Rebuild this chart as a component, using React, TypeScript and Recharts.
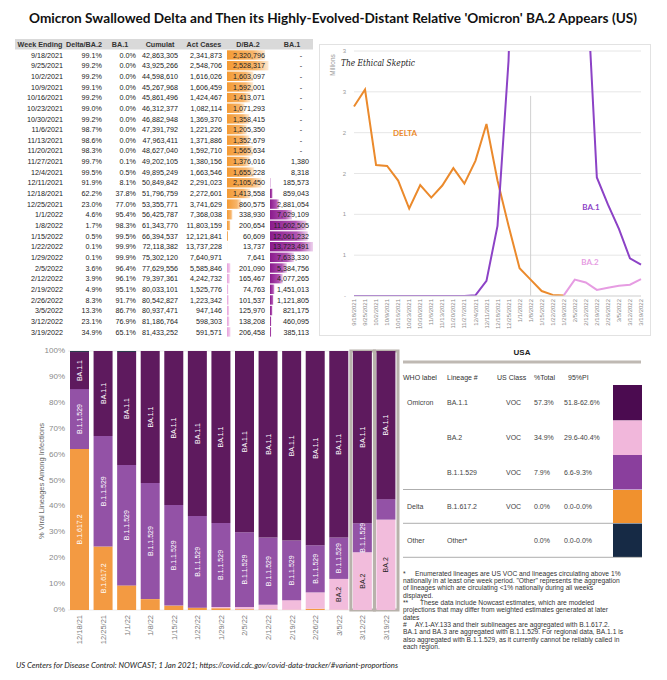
import React from 'react';
import { LineChart, Line, XAxis, YAxis, CartesianGrid, ReferenceLine, BarChart, Bar, LabelList, ReferenceArea } from 'recharts';

// ---------- Weekly table data ----------
const weeks = ['9/18/2021','9/25/2021','10/2/2021','10/9/2021','10/16/2021','10/23/2021','10/30/2021','11/6/2021','11/13/2021','11/20/2021','11/27/2021','12/4/2021','12/11/2021','12/18/2021','12/25/2021','1/1/2022','1/8/2022','1/15/2022','1/22/2022','1/29/2022','2/5/2022','2/12/2022','2/19/2022','2/26/2022','3/5/2022','3/12/2022','3/19/2022'];
const deltaPct = [99.1,99.2,99.2,99.1,99.2,99.0,99.2,98.7,98.6,98.3,99.7,99.5,91.9,62.2,23.0,4.6,1.7,0.5,0.1,0.1,3.6,3.9,4.9,8.3,13.3,23.1,34.9];
const ba1Pct = [0,0,0,0,0,0,0,0,0,0,0.1,0.5,8.1,37.8,77.0,95.4,98.3,99.5,99.9,99.9,96.4,96.1,95.1,91.7,86.7,76.9,65.1];
const cumulat = [42863305,43925266,44598610,45267968,45861496,46312377,46882948,47391792,47963411,48627040,49202105,49895249,50849842,51796759,53355771,56425787,61343770,66394537,72118382,75302120,77629556,79397361,80033101,80542827,80937471,81186764,81433252];
const actCases = [2341873,2548706,1616026,1606459,1424467,1082114,1369370,1221226,1371886,1592710,1380156,1663546,2291023,2272601,3741629,7368038,11803159,12121841,13737228,7640971,5585846,4242732,1525776,1223342,947146,598303,591571];
const dba2Cases = [2320796,2528317,1603097,1592001,1413071,1071293,1358415,1205350,1352679,1565634,1376016,1655228,2105450,1413558,860575,338930,200654,60609,13737,7641,201090,165467,74763,101537,125970,138208,206458];
const ba1Cases = [0,0,0,0,0,0,0,0,0,0,1380,8318,185573,859043,2881054,7029109,11602505,12061232,13723491,7633330,5384756,4077265,1451013,1121805,821175,460095,385113];
const lineYTicks = [0,500000,1000000,1500000,2000000,2500000,3000000];
const LAST_DELTA = 19; // 1/29/2022: column switches from Delta to BA.2

// ---------- CDC proportions ----------
const barWeeks = ['12/18/21','12/25/21','1/1/22','1/8/22','1/15/22','1/22/22','1/29/22','2/5/22','2/12/22','2/19/22','2/26/22','3/5/22','3/12/22','3/19/22'];
const propDelta = [62.2,24.5,9.5,4.2,1.7,0.9,0.7,0.3,0.2,0.1,0.5,0.1,0,0];
const propBA2 = [0,0,0,0,0,0,0.5,0.9,1.8,3.7,6.3,11.9,22.3,34.9];
const propB529 = [23.1,42.7,46.5,44.8,38.8,35.4,32.4,28.8,26,23,18.2,16,11.2,7.9];
const propBA11 = [14.3,32.8,43.6,51,59.5,63.7,66.4,70,72,73.2,75,72,66.5,57.2];
const propOther = [0.4,0,0.4,0,0,0,0,0,0,0,0,0,0,0];
const pctTicks = [0,10,20,30,40,50,60,70,80,90,100];
const framedWeeks = ['3/12/22','3/19/22'];

const legendWho = ['Omicron','','','Delta','Other'];
const legendLineage = ['BA.1.1','BA.2','B.1.1.529','B.1.617.2','Other*'];
const legendClass = ['VOC','VOC','VOC','VOC',''];
const legendTotal = ['57.3%','34.9%','7.9%','0.0%','0.0%'];
const legendPI = ['51.8-62.6%','29.6-40.4%','6.6-9.3%','0.0-0.0%','0.0-0.0%'];

const notes: [string, string][] = [
  ['*', 'Enumerated lineages are US VOC and lineages circulating above 1%'],
  ['', 'nationally in at least one week period. "Other" represents the aggregation'],
  ['', 'of lineages which are circulating <1% nationally during all weeks'],
  ['', 'displayed.'],
  ['**', 'These data include Nowcast estimates, which are modeled'],
  ['', 'projections that may differ from weighted estimates generated at later'],
  ['', 'dates'],
  ['#', 'AY.1-AY.133 and their sublineages are aggregated with B.1.617.2.'],
  ['', 'BA.1 and BA.3 are aggregated with B.1.1.529. For regional data, BA.1.1 is'],
  ['', 'also aggregated with B.1.1.529, as it currently cannot be reliably called in'],
  ['', 'each region.'],
];

const C_DELTA = '#F39A42';
const C_BA2 = '#F2BCDC';
const C_B529 = '#9352A6';
const C_BA11 = '#5E1A5E';
const C_OTHER = '#2C3A4C';
const L_DELTA = '#EB8A2C';
const L_BA1 = '#8C42C6';
const L_BA2 = '#E69CE2';
const SW = ['#4B0B50', '#F1B7DB', '#8A3F9D', '#F0912E', '#162A45'];

const FONT = '"Liberation Sans", Arial, sans-serif';

// bar chart geometry (chart box + margins)
const BAR_TOP = 345;
const BAR_H = 305;
const BAR_MT = 6;
const BAR_XH = 40;
const plotTop = BAR_TOP + BAR_MT;
const plotBottom = BAR_TOP + BAR_H - BAR_XH;

const lineData = weeks.map((w, i) => ({
  week: w,
  delta: i <= LAST_DELTA ? dba2Cases[i] : null,
  ba2: i >= LAST_DELTA ? dba2Cases[i] : null,
  ba1: ba1Cases[i],
}));

const barData = barWeeks.map((w, i) => ({
  week: w,
  delta: propDelta[i],
  ba2: propBA2[i],
  b529: propB529[i],
  ba11: propBA11[i],
  other: propOther[i],
}));

const fmt = (n: number) => n.toLocaleString('en-US');
const pct = (n: number) => n.toFixed(1) + '%';

const LineTick = (p: any) => {
  const { x, y, payload } = p;
  return (
    <text x={x} y={y} dy="0.35em" transform={`rotate(-90 ${x} ${y})`} textAnchor="end" fontSize={6} fill="#8a8a8a" fontFamily={FONT}>
      {payload.value}
    </text>
  );
};

const BarTick = (p: any) => {
  const { x, y, payload } = p;
  return (
    <text x={x} y={y - 3} dy="0.35em" transform={`rotate(-90 ${x} ${y - 3})`} textAnchor="end" fontSize={7.5} fill="#7a7a7a" fontFamily={FONT}>
      {payload.value}
    </text>
  );
};

const segLabel = (text: string, color: string) => (p: any) => {
  const x = Number(p.x), y = Number(p.y), w = Number(p.width), h = Number(p.height);
  if (!(Math.abs(h) >= 25.5)) return null;
  const cx = x + w / 2, cy = y + h / 2;
  return (
    <text x={cx} y={cy} dy="0.35em" transform={`rotate(-90 ${cx} ${cy})`} textAnchor="middle" fontSize={7} fill={color} fontFamily={FONT}>
      {text}
    </text>
  );
};

const maxD = Math.max(...dba2Cases);
const maxB = Math.max(...ba1Cases);
const colRight = [63, 102, 136, 178, 222, 265, 309];
const headers = ['Week Ending', 'Delta/BA.2', 'BA.1', 'Cumulat', 'Act Cases', 'D/BA.2', 'BA.1'];
const headerCx = [40, 84, 120, 160, 204, 248, 292];

const Overlay = () => (
  <svg width={667} height={680} style={{ position: 'absolute', left: 0, top: 0, pointerEvents: 'none', zIndex: 2 }}>
    <defs>
      <linearGradient id="gOr" x1="0" x2="1" y1="0" y2="0">
        <stop offset="0" stopColor="#F39A34" />
        <stop offset="0.7" stopColor="#F7B56B" />
        <stop offset="1" stopColor="#FDEBD6" />
      </linearGradient>
      <linearGradient id="gPk" x1="0" x2="1" y1="0" y2="0">
        <stop offset="0" stopColor="#E6A0DA" />
        <stop offset="1" stopColor="#F4D2EE" />
      </linearGradient>
      <linearGradient id="gPu" x1="0" x2="1" y1="0" y2="0">
        <stop offset="0" stopColor="#8A1A8C" />
        <stop offset="0.7" stopColor="#B054B2" />
        <stop offset="1" stopColor="#EED3EE" />
      </linearGradient>
    </defs>
    {/* Title */}
    <text x={333} y={23} textAnchor="middle" fontSize={13.5} fontWeight="bold" fontFamily="Lato, 'Open Sans', sans-serif" fill="#111" textLength={608} lengthAdjust="spacingAndGlyphs">
      Omicron Swallowed Delta and Then its Highly-Evolved-Distant Relative 'Omicron' BA.2 Appears (US)
    </text>

    {/* Table */}
    <rect x={15} y={39} width={298} height={10.5} fill="#d9d9d9" />
    {headers.map((h, j) => (
      <text key={'h' + j} x={headerCx[j]} y={47} textAnchor="middle" fontSize={7.2} fontWeight="bold" fill="#333" fontFamily={FONT}>{h}</text>
    ))}
    {weeks.map((w, i) => {
      const cy = 55 + i * 10.65;
      const by = cy + 2.6;
      const top = cy - 4.7;
      const dW = (dba2Cases[i] / maxD) * 41.5;
      const bW = (ba1Cases[i] / maxB) * 43;
      return (
        <g key={'r' + i} fontSize={7.2} fill="#222" fontFamily={FONT}>
          {dW > 0.2 && <rect x={227} y={top} width={dW} height={9.4} fill={i > LAST_DELTA ? 'url(#gPk)' : 'url(#gOr)'} />}
          {bW > 0.2 && <rect x={270} y={top} width={bW} height={9.4} fill="url(#gPu)" />}
          <text x={colRight[0]} y={by} textAnchor="end">{w}</text>
          <text x={colRight[1]} y={by} textAnchor="end">{pct(deltaPct[i])}</text>
          <text x={colRight[2]} y={by} textAnchor="end">{pct(ba1Pct[i])}</text>
          <text x={colRight[3]} y={by} textAnchor="end">{fmt(cumulat[i])}</text>
          <text x={colRight[4]} y={by} textAnchor="end">{fmt(actCases[i])}</text>
          <text x={colRight[5]} y={by} textAnchor="end">{fmt(dba2Cases[i])}</text>
          {ba1Cases[i] > 0
            ? <text x={colRight[6]} y={by} textAnchor="end">{fmt(ba1Cases[i])}</text>
            : <text x={301} y={by} textAnchor="middle">-</text>}
        </g>
      );
    })}

    {/* Line chart frame & annotations */}
    <rect x={319.5} y={44.5} width={331} height={291} fill="none" stroke="#e2e2e2" />
    <text x={333} y={65} transform="rotate(-90 333 65)" textAnchor="middle" dy="0.35em" fontSize={6.5} fill="#9a9a9a" fontFamily={FONT}>Millions</text>
    <text x={341} y={66} fontSize={10} fontStyle="italic" fontFamily="'DejaVu Serif', serif" fill="#222" textLength={74} lengthAdjust="spacingAndGlyphs">The Ethical Skeptic</text>
    <text x={405} y={136} textAnchor="middle" fontSize={8} fontWeight="bold" fill={L_DELTA} fontFamily="Lato, sans-serif">DELTA</text>
    <text x={591} y={210} textAnchor="middle" fontSize={8} fontWeight="bold" fill={L_BA1} fontFamily="Lato, sans-serif">BA.1</text>
    <text x={590} y={265} textAnchor="middle" fontSize={8} fontWeight="bold" fill={L_BA2} fontFamily="Lato, sans-serif">BA.2</text>

    {/* Bar chart y axis label */}
    <text x={41} y={481} transform="rotate(-90 41 481)" textAnchor="middle" dy="0.35em" fontSize={7.5} fill="#666" fontFamily={FONT}>% Viral Lineages Among Infections</text>

    {/* Legend table */}
    <text x={522} y={355} textAnchor="middle" fontSize={8} fontWeight="bold" fill="#222" fontFamily={FONT}>USA</text>
    <rect x={403} y={360.5} width={238} height={3} fill="#bfb9b3" />
    <g fontSize={7} fill="#333" fontFamily={FONT}>
      <text x={403} y={379.5}>WHO label</text>
      <text x={447} y={379.5}>Lineage #</text>
      <text x={497} y={379.5}>US Class</text>
      <text x={534} y={379.5}>%Total</text>
      <text x={568} y={379.5}>95%PI</text>
    </g>
    {legendLineage.map((l, i) => {
      const tops = [385, 420.5, 455, 490, 523.5];
      const bots = [420.5, 455, 489.5, 523, 557];
      const cy = (tops[i] + bots[i]) / 2 + 2.5;
      return (
        <g key={'lg' + i} fontSize={7} fill="#444" fontFamily={FONT}>
          <rect x={613} y={tops[i]} width={29} height={bots[i] - tops[i]} fill={SW[i]} />
          <text x={407} y={cy}>{legendWho[i]}</text>
          <text x={447} y={cy}>{l}</text>
          <text x={506} y={cy}>{legendClass[i]}</text>
          <text x={534} y={cy}>{legendTotal[i]}</text>
          <text x={564} y={cy}>{legendPI[i]}</text>
        </g>
      );
    })}
    <line x1={403} x2={613} y1={489.5} y2={489.5} stroke="#999" strokeWidth={0.8} />
    <line x1={403} x2={613} y1={523.3} y2={523.3} stroke="#999" strokeWidth={0.8} />
    <line x1={403} x2={642} y1={557.3} y2={557.3} stroke="#999" strokeWidth={0.8} />

    {/* Footnotes */}
    <g fontSize={6.7} fill="#333" fontFamily={FONT}>
      {notes.map((n, i) => {
        const y = 575.5 + i * 7.35;
        return n[0]
          ? <g key={'n' + i}><text x={403} y={y}>{n[0]}</text><text x={n[0] === '**' ? 420 : 415} y={y}>{n[1]}</text></g>
          : <text key={'n' + i} x={403} y={y}>{n[1]}</text>;
      })}
    </g>

    {/* Source */}
    <text x={16} y={667.5} fontSize={8} fontStyle="italic" fill="#222" fontFamily="Lato, sans-serif" textLength={382} lengthAdjust="spacingAndGlyphs">
      US Centers for Disease Control: NOWCAST; 1 Jan 2021; https://covid.cdc.gov/covid-data-tracker/#variant-proportions
    </text>
  </svg>
);

export default function App() {
  return (
    <div style={{ position: 'absolute', left: 0, top: 0, width: 667, height: 680, background: '#fff', fontFamily: FONT, overflow: 'hidden' }}>
      <div style={{ position: 'absolute', left: 0, top: BAR_TOP }}>
        <BarChart width={402} height={BAR_H} data={barData} margin={{ top: BAR_MT, right: 4, left: 0, bottom: 0 }} barSize={19}>
          <CartesianGrid vertical={false} stroke="#ececec" />
          <XAxis dataKey="week" interval={0} height={BAR_XH} axisLine={false} tickLine={false} tick={(p: any) => <BarTick {...p} />} />
          <YAxis width={68} domain={[0, 100]} ticks={pctTicks} axisLine={false} tickLine={false} tick={false} />
          <Bar dataKey="delta" stackId="a" fill={C_DELTA} isAnimationActive={false}>
            <LabelList content={segLabel('B.1.617.2', '#fff')} />
          </Bar>
          <Bar dataKey="ba2" stackId="a" fill={C_BA2} isAnimationActive={false}>
            <LabelList content={segLabel('BA.2', '#222')} />
          </Bar>
          <Bar dataKey="b529" stackId="a" fill={C_B529} isAnimationActive={false}>
            <LabelList content={segLabel('B.1.1.529', '#fff')} />
          </Bar>
          <Bar dataKey="ba11" stackId="a" fill={C_BA11} isAnimationActive={false}>
            <LabelList content={segLabel('BA.1.1', '#fff')} />
          </Bar>
          <Bar dataKey="other" stackId="a" fill={C_OTHER} isAnimationActive={false} />
          {framedWeeks.map((w) => (
            <ReferenceArea key={w} x1={w} x2={w} fill="none" stroke="#b8b2ab" strokeWidth={3} ifOverflow="visible" />
          ))}
        </BarChart>
      </div>
      <div style={{ position: 'absolute', left: 319, top: 44 }}>
        <LineChart width={332} height={292} data={lineData} margin={{ top: 7, right: 10, left: 0, bottom: 0 }}>
          <CartesianGrid vertical={false} stroke="#e6e6e6" />
          <XAxis dataKey="week" scale="point" interval={0} height={40} tickSize={0} tickMargin={3} axisLine={{ stroke: '#d9d9d9' }} tickLine={false} tick={(p: any) => <LineTick {...p} />} padding={{ left: 0, right: 0 }} />
          <YAxis width={35} domain={[0, 3000000]} ticks={lineYTicks} allowDataOverflow tickFormatter={(v: number) => (v === 0 ? '-' : String(Math.round(v / 1e6)))} tick={{ fontSize: 6, fill: '#999', fontFamily: FONT }} axisLine={false} tickLine={false} />
          <ReferenceLine segment={[{ x: '1/8/2022', y: 0 }, { x: '1/8/2022', y: 2450000 }]} stroke="#d0d0d0" />
          <Line type="linear" dataKey="delta" stroke={L_DELTA} strokeWidth={2} dot={false} isAnimationActive={false} connectNulls={false} />
          <Line type="linear" dataKey="ba2" stroke={L_BA2} strokeWidth={2} dot={false} isAnimationActive={false} connectNulls={false} />
          <Line type="linear" dataKey="ba1" stroke={L_BA1} strokeWidth={2} dot={false} isAnimationActive={false} />
        </LineChart>
      </div>
      <Overlay />
      {pctTicks.map((v) => (
        <div key={'pt' + v} style={{ position: 'absolute', zIndex: 5, left: 30, width: 35, textAlign: 'right', top: plotBottom - (v / 100) * (plotBottom - plotTop) - 5, height: 10, lineHeight: '10px', fontSize: 8, color: '#8a8a8a', fontFamily: FONT, whiteSpace: 'nowrap' }}>
          {v + '%'}
        </div>
      ))}
    </div>
  );
}
